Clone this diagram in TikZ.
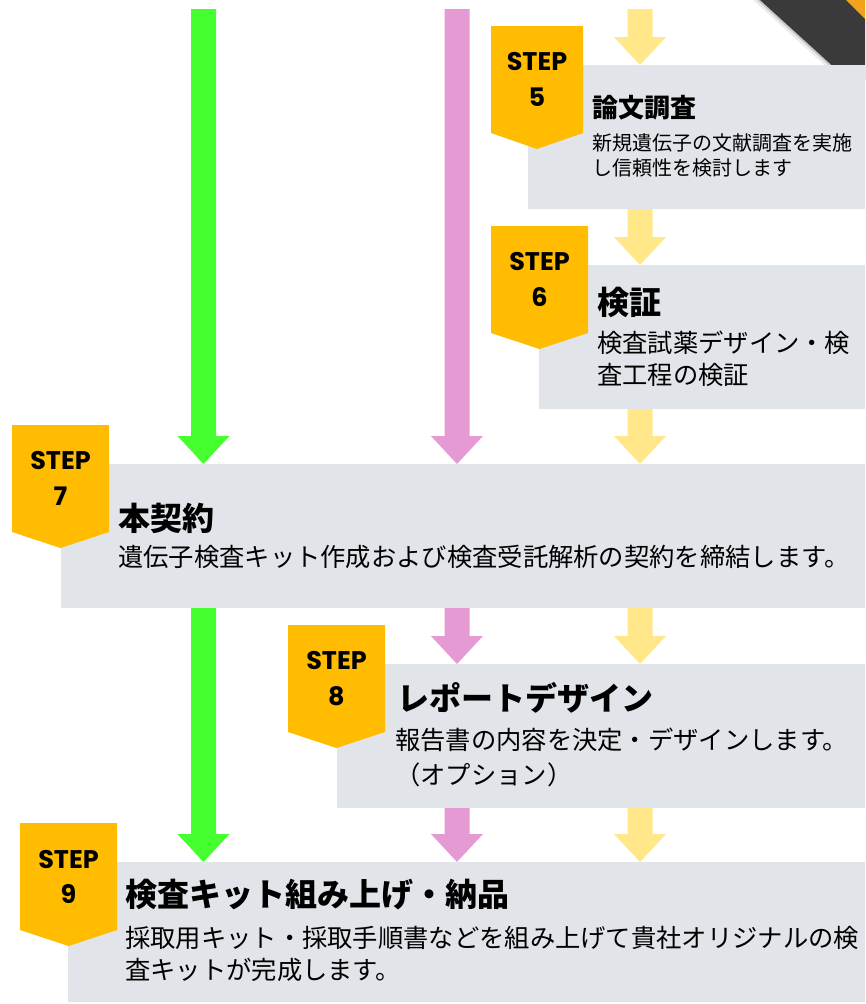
\documentclass[tikz,border=0pt]{standalone}
\usepackage{fontspec}
\newfontfamily\jp{Noto Sans CJK JP}
\newfontfamily\stepfont{Poppins}
\usetikzlibrary{calc}
\definecolor{boxgray}{HTML}{E1E4E9}
\definecolor{badgeY}{HTML}{FFBC00}
\definecolor{arrG}{HTML}{46FF2E}
\definecolor{arrP}{HTML}{E69AD4}
\definecolor{arrY}{HTML}{FFE78A}
\definecolor{darkband}{HTML}{3A3A3A}
\definecolor{cornerO}{HTML}{F3A21B}
\newcommand\blockarrow[3]{%
  \fill[#1] ($(#2)+(-12.5,0)$) -- ($(#2)+(12.5,0)$) -- ($(#2 |- #3)+(12.5,-28)$) -- ($(#2 |- #3)+(26,-28)$) -- (#2 |- #3) -- ($(#2 |- #3)+(-26,-28)$) -- ($(#2 |- #3)+(-12.5,-28)$) -- cycle;}
\newcommand\stepbadge[5]{%
  \fill[badgeY] (#2,#4) -- (#3,#4) -- (#3,{#4+107}) -- ({(#2+#3)/2},{#4+123}) -- (#2,{#4+107}) -- cycle;
  \node[steptext] (#1s) at ({(#2+#3)/2},{#4+36}) {STEP};
  \node[steptext] (#1n) at ({(#2+#3)/2},{#4+71}) {#5};}
\begin{document}
\begin{tikzpicture}[x=1pt,y=-1pt,
  box/.style={fill=boxgray, draw=none, anchor=north west, inner sep=0pt, outer sep=0pt},
  steptext/.style={inner sep=0pt, font=\stepfont\bfseries\fontsize{25.5}{28}\selectfont},
  ttl/.style={anchor=west, inner sep=0pt, font=\jp\bfseries\fontsize{32}{38}\selectfont},
  sub/.style={anchor=west, inner sep=0pt, font=\jp\fontsize{25.3}{30}\selectfont},
  ttlsmall/.style={anchor=west, inner sep=0pt, font=\jp\bfseries\fontsize{26}{30}\selectfont},
  subsmall/.style={anchor=west, inner sep=0pt, font=\jp\fontsize{20}{24}\selectfont}]
\useasboundingbox (0,0) rectangle (865,1004);
\fill[white] (0,0) rectangle (865,1004);
% corner decoration
\fill[black!8] (753,0) -- (760,0) -- (848,80) -- (841,80) -- cycle;
\fill[black!22] (757,0) -- (760,0) -- (848,80) -- (845,80) -- cycle;
\fill[darkband] (760,0) -- (847,0) -- (865,18) -- (865,80) -- (848,80) -- cycle;
\fill[cornerO] (846,0) -- (865,0) -- (865,19) -- cycle;
% boxes (positions)
\path (528,65) node[box, minimum width=337pt, minimum height=144pt] (b5) {};
\path (539,265) node[box, minimum width=326pt, minimum height=144pt] (b6) {};
\path (61,464) node[box, minimum width=804pt, minimum height=144pt] (b7) {};
\path (337,664) node[box, minimum width=528pt, minimum height=144pt] (b8) {};
\path (68,862) node[box, minimum width=797pt, minimum height=140pt] (b9) {};
% arrow start points
\coordinate (g0) at (203.5,9);
\coordinate (g1) at (g0 |- b7.south);
\coordinate (p0) at (457,9);
\coordinate (p1) at (p0 |- b7.south);
\coordinate (p2) at (p0 |- b8.south);
\coordinate (y0) at (640,9);
\coordinate (y1) at (y0 |- b5.south);
\coordinate (y2) at (y0 |- b6.south);
\coordinate (y3) at (y0 |- b7.south);
\coordinate (y4) at (y0 |- b8.south);
% arrows
\blockarrow{arrG}{g0}{b7.north}
\blockarrow{arrG}{g1}{b9.north}
\blockarrow{arrP}{p0}{b7.north}
\blockarrow{arrP}{p1}{b8.north}
\blockarrow{arrP}{p2}{b9.north}
\blockarrow{arrY}{y0}{b5.north}
\blockarrow{arrY}{y1}{b6.north}
\blockarrow{arrY}{y2}{b7.north}
\blockarrow{arrY}{y3}{b8.north}
\blockarrow{arrY}{y4}{b9.north}
% boxes drawn over arrow tips
\fill[boxgray] (b5.north west) rectangle (b5.south east);
\fill[boxgray] (b6.north west) rectangle (b6.south east);
\fill[boxgray] (b7.north west) rectangle (b7.south east);
\fill[boxgray] (b8.north west) rectangle (b8.south east);
\fill[boxgray] (b9.north west) rectangle (b9.south east);
% badges
\stepbadge{s5}{491}{583}{26}{5}
\stepbadge{s6}{491}{588}{226}{6}
\stepbadge{s7}{12}{109}{425}{7}
\stepbadge{s8}{288}{385}{625}{8}
\stepbadge{s9}{20}{117}{823}{9}
% texts
\node[ttlsmall] (t5) at (592,108) {論文調査};
\node[subsmall] (t5a) at (592,143) {新規遺伝子の文献調査を実施};
\node[subsmall] (t5b) at (592,168) {し信頼性を検討します};
\node[ttl] (t6) at (597,302) {検証};
\node[sub] (t6a) at (597,343) {検査試薬デザイン・検};
\node[sub] (t6b) at (597,375) {査工程の検証};
\node[ttl] (t7) at (118,518) {本契約};
\node[sub] (t7a) at (118,557) {遺伝子検査キット作成および検査受託解析の契約を締結します。};
\node[ttl] (t8) at (397,698) {レポートデザイン};
\node[sub] (t8a) at (395,740) {報告書の内容を決定・デザインします。};
\node[sub] (t8b) at (395,775) {（オプション）};
\node[ttl] (t9) at (125,895) {検査キット組み上げ・納品};
\node[sub] (t9a) at (125,938) {採取用キット・採取手順書などを組み上げて貴社オリジナルの検};
\node[sub] (t9b) at (125,970) {査キットが完成します。};
\end{tikzpicture}
\end{document}
